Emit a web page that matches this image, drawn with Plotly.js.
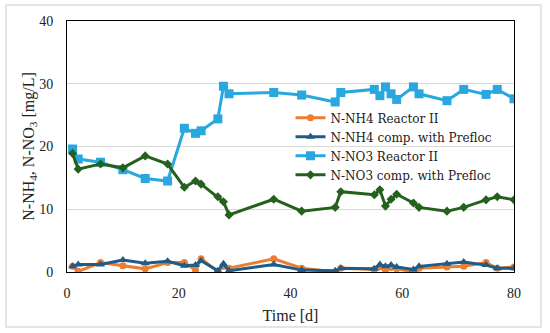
<!DOCTYPE html>
<html>
<head>
<meta charset="utf-8">
<script src="https://cdn.plot.ly/plotly-3.0.1.min.js"></script>
<style>
html,body{margin:0;padding:0;background:#fff;}
#chart{width:550px;height:333px;}
</style>
</head>
<body>
<div id="chart"></div>
<script>
// Days of sampling
const days = [1, 2, 6, 10, 14, 18, 21, 23, 24, 27, 28, 29, 37, 42, 48, 49, 55, 56, 57, 58, 59, 62, 63, 68, 71, 75, 77, 80];
// N-NH4 Reactor II
const nh4Reactor = [0.9, 0.1, 1.5, 1.0, 0.5, 1.5, 1.5, 0.3, 2.1, 0.1, 0.9, 0.6, 2.1, 0.6, 0.0, 0.6, 0.4, 0.8, 0.3, 0.7, 0.5, 0.0, 0.6, 0.8, 0.9, 1.5, 0.6, 0.8];
// N-NH4 comp. with Prefloc
const nh4Prefloc = [0.9, 1.2, 1.2, 1.9, 1.4, 1.7, 1.0, 1.1, 1.8, 0.2, 1.3, 0.2, 1.2, 0.3, 0.2, 0.6, 0.5, 1.2, 0.9, 1.1, 0.8, 0.4, 0.9, 1.3, 1.6, 1.1, 0.6, 0.6];
// N-NO3 Reactor II
const no3Reactor = [19.6, 18.0, 17.5, 16.3, 14.9, 14.5, 22.9, 22.1, 22.5, 24.4, 29.6, 28.4, 28.6, 28.2, 27.1, 28.6, 29.1, 28.1, 29.5, 28.4, 27.5, 29.5, 28.4, 27.3, 29.1, 28.3, 29.1, 27.6];
// N-NO3 comp. with Prefloc
const no3Prefloc = [18.9, 16.4, 17.2, 16.6, 18.5, 17.2, 13.5, 14.5, 14.0, 12.0, 11.2, 9.1, 11.6, 9.7, 10.3, 12.8, 12.3, 13.1, 10.5, 11.6, 12.4, 11.0, 10.3, 9.7, 10.3, 11.5, 12.0, 11.5];

const seriesNames = ["N-NH4 Reactor II", "N-NH4 comp. with Prefloc", "N-NO3 Reactor II", "N-NO3 comp. with Prefloc"];
const xTicks = [0, 20, 40, 60, 80];
const yTicks = [0, 10, 20, 30, 40];

const FONT = "Times New Roman";

const traces = [
  {x: days, y: nh4Reactor, name: seriesNames[0], mode: "lines+markers",
   line: {color: "#ED7D31", width: 3}, marker: {symbol: "circle", size: 7, color: "#ED7D31"}},
  {x: days, y: nh4Prefloc, name: seriesNames[1], mode: "lines+markers",
   line: {color: "#1F5C87", width: 3}, marker: {symbol: "triangle-up", size: 8, color: "#1F5C87"}},
  {x: days, y: no3Reactor, name: seriesNames[2], mode: "lines+markers",
   line: {color: "#29A8DF", width: 3}, marker: {symbol: "square", size: 9, color: "#29A8DF"}},
  {x: days, y: no3Prefloc, name: seriesNames[3], mode: "lines+markers",
   line: {color: "#26601F", width: 3}, marker: {symbol: "diamond", size: 7, color: "#26601F"}}
];

const layout = {
  width: 550, height: 333,
  margin: {l: 67, r: 36, t: 21, b: 61},
  paper_bgcolor: "#fff", plot_bgcolor: "#fff",
  font: {family: FONT, size: 13, color: "#222"},
  showlegend: true,
  legend: {x: 0.5, y: 0.672, xanchor: "left", yanchor: "top", bgcolor: "rgba(0,0,0,0)",
           font: {family: "DejaVu Serif", size: 12, color: "#222"}, tracegroupgap: 0, itemwidth: 30},
  xaxis: {range: [0, 80], tickvals: xTicks, ticktext: xTicks.map(String), showgrid: false, zeroline: false,
          showline: true, linecolor: "#000", linewidth: 1, mirror: true, ticks: "", ticklabelstandoff: 8,
          tickfont: {family: FONT, size: 14, color: "#222"},
          title: {text: "Time [d]", font: {family: FONT, size: 16, color: "#222"}, standoff: 10}},
  yaxis: {range: [0, 40], tickvals: yTicks, ticktext: yTicks.map(String), showgrid: true, gridcolor: "#d9d9d9", gridwidth: 1,
          zeroline: false, showline: true, linecolor: "#000", linewidth: 1, mirror: true, ticks: "", ticklabelstandoff: 10,
          tickfont: {family: FONT, size: 14, color: "#222"},
          title: {text: "N-NH<sub>4</sub>, N-NO<sub>3</sub> [mg/L]", font: {family: FONT, size: 16, color: "#222"}, standoff: 0}},
  shapes: [{type: "rect", xref: "paper", yref: "paper",
            x0: (6 - 67) / 447, x1: (541 - 67) / 447, y0: (272 - 327) / 251, y1: (272 - 5) / 251,
            line: {color: "#dddddd", width: 1.5}, fillcolor: "rgba(0,0,0,0)", layer: "below"}]
};

Plotly.newPlot("chart", traces, layout, {displayModeBar: false, staticPlot: true});
</script>
</body>
</html>
